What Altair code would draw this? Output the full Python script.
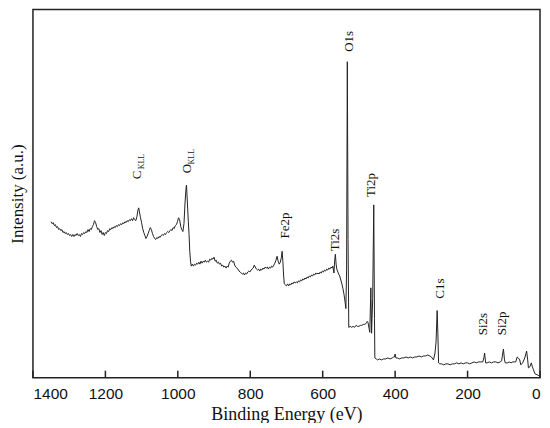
import altair as alt
import pandas as pd

energy = [1350, 1347, 1344, 1341, 1338, 1335, 1332, 1329, 1326, 1323, 1320, 1317, 1314, 1311,
          1308, 1305, 1302, 1299, 1296, 1293, 1290, 1287, 1284, 1281, 1278, 1275, 1272, 1269,
          1266, 1263, 1260, 1257, 1254, 1251, 1248, 1245, 1242, 1239, 1236, 1233, 1230, 1227,
          1224, 1221, 1218, 1215, 1212, 1209, 1206, 1203, 1200, 1197, 1194, 1191, 1188, 1185,
          1182, 1179, 1176, 1173, 1170, 1167, 1164, 1161, 1158, 1155, 1152, 1149, 1146, 1143,
          1140, 1137, 1134, 1131, 1128, 1125, 1122, 1119, 1116, 1113, 1110, 1108, 1106, 1103,
          1100, 1097, 1094, 1091, 1088, 1085, 1082, 1079, 1076, 1073, 1070, 1067, 1064, 1061,
          1058, 1055, 1052, 1049, 1046, 1043, 1040, 1037, 1034, 1031, 1028, 1025, 1022, 1019,
          1016, 1013, 1010, 1007, 1004, 1001, 998, 995, 992, 989, 986, 983, 980, 977, 976,
          974, 971, 969, 967, 965, 963, 960, 957, 954, 951, 948, 945, 942, 939, 936, 933, 930,
          927, 924, 921, 918, 915, 912, 909, 906, 903, 900, 897, 894, 891, 888, 885, 882, 879,
          876, 873, 870, 867, 864, 861, 858, 855, 852, 849, 846, 843, 840, 837, 834, 831, 828,
          825, 822, 819, 816, 813, 810, 807, 804, 801, 798, 795, 792, 789, 786, 783, 780, 777,
          774, 771, 768, 765, 762, 759, 756, 753, 750, 747, 744, 741, 738, 735, 732, 729, 726,
          723, 720, 717, 714, 712, 710, 708, 706, 703, 700, 697, 694, 691, 688, 685, 682, 679,
          676, 673, 670, 667, 664, 661, 658, 655, 652, 649, 646, 643, 640, 637, 634, 631, 628,
          625, 622, 619, 616, 613, 610, 607, 604, 601, 598, 595, 592, 589, 586, 583, 580, 577,
          574, 572, 569, 567, 565, 563, 561, 559, 556, 553, 550, 547, 544, 541, 538, 536,
          534, 532, 530, 528, 524, 520, 516, 512, 508, 504, 500, 496, 492, 488, 484, 480, 477,
          475, 472, 470, 467, 465, 462, 459, 457, 456, 452, 448, 444, 438, 432, 426, 420, 414,
          408, 404, 402, 400, 398, 394, 388, 382, 376, 370, 364, 358, 352, 346, 340, 334, 328,
          322, 316, 310, 304, 300, 296, 294, 290, 287, 284, 282, 280, 277, 272, 266, 260, 254,
          248, 242, 236, 230, 224, 218, 212, 206, 200, 194, 188, 182, 176, 170, 164, 158, 155,
          153, 150, 146, 140, 134, 128, 122, 116, 110, 106, 104, 101, 98, 96, 90, 85, 80, 75,
          70, 67, 63, 60, 56, 53, 48, 42, 37, 34, 32, 28, 24, 21, 18, 14, 8, 3]
intensity = [158, 156, 157, 154, 155, 152, 153, 150, 151, 149, 150, 147, 148, 146,
             147, 145, 146, 144, 145, 143, 145, 143, 145, 144, 146, 144, 145, 143,
             146, 145, 147, 146, 148, 147, 150, 148, 151, 150, 153, 155, 159, 157,
             153, 150, 151, 147, 149, 145, 147, 144, 147, 146, 149, 148, 151, 150,
             152, 151, 153, 152, 154, 153, 155, 154, 156, 155, 157, 156, 158, 157,
             159, 158, 160, 159, 161, 159, 162, 160, 159, 163, 170, 172, 168, 162,
             157, 151, 147, 144, 141, 143, 146, 149, 152, 150, 146, 143, 141, 140,
             142, 141, 143, 142, 144, 145, 144, 146, 145, 147, 148, 147, 149, 150,
             149, 152, 151, 154, 155, 158, 162, 160, 153, 150, 148, 156, 178, 193, 195,
             180, 158, 145, 128, 118, 113, 115, 113, 115, 114, 116, 115, 117, 115, 118, 116, 118,
             117, 119, 117, 118, 117, 120, 119, 121, 120, 122, 118, 119, 116, 117, 115, 116, 113,
             114, 112, 113, 111, 113, 112, 116, 118, 119, 117, 118, 114, 112, 111, 110, 108, 107,
             106, 105, 106, 104, 106, 105, 107, 108, 107, 109, 110, 111, 114, 112, 110, 109, 110,
             108, 110, 109, 111, 110, 112, 111, 112, 110, 112, 111, 113, 112, 114, 116, 119, 123,
             118, 115, 117, 122, 128, 118, 104, 95, 94, 93, 95, 93, 95, 94, 96, 95, 97,
             96, 97, 96, 98, 97, 99, 98, 100, 99, 101, 100, 102, 101, 103, 102, 104, 103,
             105, 104, 106, 105, 106, 105, 107, 106, 108, 107, 109, 108, 110, 109, 111, 110, 112,
             111, 113, 106, 118, 125, 115, 110, 108, 105, 103, 99, 95, 90, 84, 76, 70,
             110, 320, 140, 51, 52, 51, 52, 51, 53, 52, 52, 53, 53, 54, 54, 55, 57,
             56, 50, 46, 91, 45, 80, 175, 60, 20, 19, 18, 19, 18, 19, 19, 20, 19,
             20, 21, 21, 24, 20, 20, 19, 20, 20, 21, 20, 21, 20, 21, 21, 22, 21,
             22, 22, 23, 22, 21, 19, 18, 25, 36, 68, 45, 15, 14, 14, 13, 14, 14,
             13, 14, 14, 15, 14, 15, 14, 15, 15, 14, 15, 16, 15, 16, 16, 16, 20,
             25, 15, 15, 16, 15, 16, 16, 15, 16, 17, 22, 29, 18, 15, 15, 16, 15, 16,
             16, 16, 21, 20, 18, 13, 15, 20, 27, 18, 10, 11, 15, 11, 8, 4, 3, 2]

tick_values = [1400, 1200, 1000, 800, 600, 400, 200, 0]

peak_names = ["C", "O", "O1s", "Ti2p", "Fe2p", "Ti2s", "C1s", "Si2s", "Si2p"]
peak_energy = [1113, 976, 526, 466, 705, 565, 276, 156, 104]
peak_height = [201, 207, 330, 183, 141, 128, 80, 43, 43]

sub_names = ["KLL", "KLL"]
sub_energy = [1100, 960]
sub_height = [211, 216]

spec = pd.DataFrame({"energy": energy, "intensity": intensity})
ticks = pd.DataFrame({"energy": tick_values})
labels = pd.DataFrame({"name": peak_names, "energy": peak_energy, "intensity": peak_height})
subs = pd.DataFrame({"name": sub_names, "energy": sub_energy, "intensity": sub_height})

xscale = alt.Scale(domain=[0, 1400], reverse=True, nice=False, zero=False)
yscale = alt.Scale(domain=[0, 373], nice=False, zero=True)

xaxis = alt.Axis(values=tick_values, format="d", title="Binding Energy (eV)",
                 labelFont="Liberation Sans", labelFontSize=15.5, labelColor="#111",
                 labelPadding=9, ticks=False, domain=False, grid=False,
                 titleFont="Liberation Serif", titleFontSize=18, titleFontWeight="normal",
                 titleColor="#111", titlePadding=3)
yaxis = alt.Axis(labels=False, ticks=False, domain=False, grid=False,
                 title="Intensity (a.u.)", titleFont="Liberation Serif", titleFontSize=17,
                 titleFontWeight="normal", titleColor="#111", titlePadding=6)

line = alt.Chart(spec).mark_line(color="#222", strokeWidth=1).encode(
    x=alt.X("energy:Q", scale=xscale, axis=xaxis),
    y=alt.Y("intensity:Q", scale=yscale, axis=yaxis),
)

tick_marks = alt.Chart(ticks).mark_rule(color="#222", strokeWidth=1.5).encode(
    x=alt.X("energy:Q", scale=xscale),
    y=alt.value(369),
    y2=alt.value(362),
)

label_marks = alt.Chart(labels).mark_text(
    angle=270, align="left", baseline="middle", font="Liberation Serif",
    fontSize=13, color="#111"
).encode(
    x=alt.X("energy:Q", scale=xscale),
    y=alt.Y("intensity:Q", scale=yscale),
    text="name:N",
)

sub_marks = alt.Chart(subs).mark_text(
    angle=270, align="left", baseline="middle", font="Liberation Serif",
    fontSize=8, color="#111"
).encode(
    x=alt.X("energy:Q", scale=xscale),
    y=alt.Y("intensity:Q", scale=yscale),
    text="name:N",
)

chart = alt.layer(line, tick_marks, label_marks, sub_marks).properties(
    width=508, height=369,
    autosize=alt.AutoSizeParams(type="none"),
    padding={"left": 25, "top": 1, "right": 2, "bottom": 45},
).configure_view(stroke="#222", strokeWidth=1.5)

chart.save("out.html", embed_options={"renderer": "svg", "actions": False})
